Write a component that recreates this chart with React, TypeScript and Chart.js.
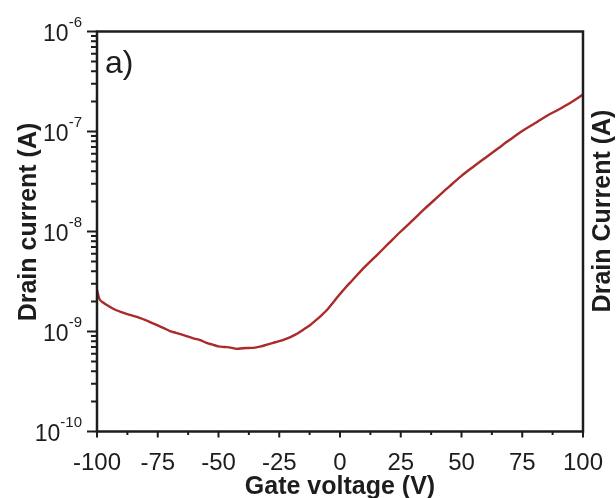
import React, { useEffect, useRef } from "react";
import { Chart, registerables } from "chart.js";

Chart.register(...registerables);

// Gate voltage (V)
const gateVoltage = [
  -100, -99, -97.5, -95, -92.5, -90, -87.5, -85, -82.5, -80, -77.5, -75, -72.5, -70,
  -67.5, -65, -62.5, -60, -57.5, -55, -52.5, -50, -47.5, -45, -42.5, -40, -37.5, -35,
  -32.5, -30, -27.5, -25, -22.5, -20, -17.5, -15, -12.5, -10, -7.5, -5, -2.5, 0, 2.5, 5,
  10, 15, 20, 25, 30, 35, 40, 45, 50, 55, 60, 65, 70, 75, 80, 85, 90, 95, 100,
];

// Drain current (A)
const drainCurrent = [
  2.6e-9, 2.12e-9, 1.95e-9, 1.78e-9, 1.65e-9, 1.56e-9, 1.49e-9, 1.43e-9, 1.37e-9, 1.3e-9,
  1.22e-9, 1.15e-9, 1.08e-9, 1.01e-9, 9.7e-10, 9.3e-10, 8.9e-10, 8.5e-10, 8.2e-10, 7.7e-10,
  7.4e-10, 7.1e-10, 7.0e-10, 6.9e-10, 6.7e-10, 6.8e-10, 6.85e-10, 6.9e-10, 7.1e-10, 7.4e-10,
  7.7e-10, 8.0e-10, 8.4e-10, 8.9e-10, 9.55e-10, 1.05e-9, 1.15e-9, 1.29e-9, 1.46e-9, 1.68e-9,
  2.0e-9, 2.37e-9, 2.79e-9, 3.24e-9, 4.37e-9, 5.75e-9, 7.59e-9, 1.0e-8, 1.3e-8, 1.7e-8,
  2.19e-8, 2.82e-8, 3.6e-8, 4.47e-8, 5.5e-8, 6.76e-8, 8.3e-8, 1.01e-7, 1.2e-7, 1.43e-7,
  1.66e-7, 1.95e-7, 2.34e-7,
];

const xMajorTicks = [-100, -75, -50, -25, 0, 25, 50, 75, 100];
const xMinorTicks = [-87.5, -62.5, -37.5, -12.5, 12.5, 37.5, 62.5, 87.5];
const yDecadeExponents = [-10, -9, -8, -7, -6];
const yMinorMultipliers = [2, 3, 4, 5, 6, 7, 8, 9];

const xTitle = "Gate voltage (V)";
const yTitle = "Drain current (A)";
const neighbourTitle = "Drain Current (A)";
const panelLabel = "a)";

const FONT = "'Liberation Sans', Arial, Helvetica, sans-serif";
const INK = "#1d1d1d";

const framePlugin = {
  id: "frame",
  afterDraw(chart: any) {
    const ctx = chart.ctx as CanvasRenderingContext2D;
    const xs = chart.scales.x;
    const ys = chart.scales.y;
    const { left, right, top, bottom } = chart.chartArea;
    ctx.save();
    ctx.strokeStyle = INK;
    ctx.fillStyle = INK;

    // frame
    ctx.lineWidth = 2.5;
    ctx.beginPath();
    ctx.rect(left, top, right - left, bottom - top);
    ctx.stroke();

    // x ticks
    ctx.lineWidth = 2;
    ctx.beginPath();
    xMajorTicks.forEach((v) => {
      const px = xs.getPixelForValue(v);
      ctx.moveTo(px, bottom);
      ctx.lineTo(px, bottom + 6);
    });
    xMinorTicks.forEach((v) => {
      const px = xs.getPixelForValue(v);
      ctx.moveTo(px, bottom);
      ctx.lineTo(px, bottom + 3.5);
    });
    // y ticks
    yDecadeExponents.forEach((e) => {
      const py = ys.getPixelForValue(Math.pow(10, e));
      ctx.moveTo(left - 10, py);
      ctx.lineTo(left, py);
      if (e < -6) {
        yMinorMultipliers.forEach((m) => {
          const pm = ys.getPixelForValue(m * Math.pow(10, e));
          ctx.moveTo(left - 6, pm);
          ctx.lineTo(left, pm);
        });
      }
    });
    ctx.stroke();

    // x tick labels
    ctx.font = `24px ${FONT}`;
    ctx.textAlign = "center";
    ctx.textBaseline = "alphabetic";
    xMajorTicks.forEach((v) => {
      const px = xs.getPixelForValue(v);
      ctx.fillText(String(v), px, 470);
    });

    // y tick labels: 10 with superscript exponent
    const rightEdge = 82;
    yDecadeExponents.forEach((e) => {
      const py = ys.getPixelForValue(Math.pow(10, e));
      const sup = String(e);
      ctx.font = `15px ${FONT}`;
      const supW = ctx.measureText(sup).width;
      ctx.font = `23px ${FONT}`;
      const mainW = ctx.measureText("10").width;
      ctx.textAlign = "left";
      ctx.fillText("10", rightEdge - supW - mainW, py + 9);
      ctx.font = `15px ${FONT}`;
      ctx.fillText(sup, rightEdge - supW, py - 4.5);
    });

    // axis titles
    ctx.font = `bold 25px ${FONT}`;
    ctx.textAlign = "center";
    ctx.textBaseline = "alphabetic";
    ctx.fillText(xTitle, (left + right) / 2, 494);

    ctx.textBaseline = "middle";
    ctx.save();
    ctx.translate(29, 222);
    ctx.rotate(-Math.PI / 2);
    ctx.fillText(yTitle, 0, 0);
    ctx.restore();

    ctx.save();
    ctx.translate(603, 211);
    ctx.rotate(-Math.PI / 2);
    ctx.fillText(neighbourTitle, 0, 0);
    ctx.restore();

    // panel label
    ctx.font = `32px ${FONT}`;
    ctx.textAlign = "left";
    ctx.textBaseline = "alphabetic";
    ctx.fillText(panelLabel, left + 8, 73);

    ctx.restore();
  },
};

export default function App() {
  const canvasRef = useRef<HTMLCanvasElement | null>(null);

  useEffect(() => {
    const canvas = canvasRef.current;
    if (!canvas) return;
    const chart = new Chart(canvas, {
      type: "line",
      data: {
        datasets: [
          {
            label: "Drain current",
            data: gateVoltage.map((v, i) => ({ x: v, y: drainCurrent[i] })),
            borderColor: "#ab2a2a",
            borderWidth: 2.4,
            pointRadius: 0,
            cubicInterpolationMode: "monotone",
            fill: false,
          },
        ],
      },
      options: {
        responsive: false,
        animation: false,
        devicePixelRatio: 1,
        layout: { padding: { top: 31.5, right: 33, left: 0, bottom: 0 } },
        plugins: {
          legend: { display: false },
          tooltip: { enabled: false },
        },
        scales: {
          x: {
            type: "linear",
            min: -100,
            max: 100,
            grid: { display: false },
            border: { display: false },
            ticks: { display: false },
            afterFit: (s: any) => {
              s.height = 66.5;
            },
          },
          y: {
            type: "logarithmic",
            min: 1e-10,
            max: 1e-6,
            grid: { display: false },
            border: { display: false },
            ticks: { display: false },
            afterFit: (s: any) => {
              s.width = 97;
            },
          },
        },
      } as any,
      plugins: [framePlugin],
    });
    return () => chart.destroy();
  }, []);

  return (
    <div style={{ position: "fixed", left: 0, top: 0, width: 616, height: 498, background: "#fff" }}>
      <canvas ref={canvasRef} width={616} height={498} style={{ display: "block" }} />
    </div>
  );
}
